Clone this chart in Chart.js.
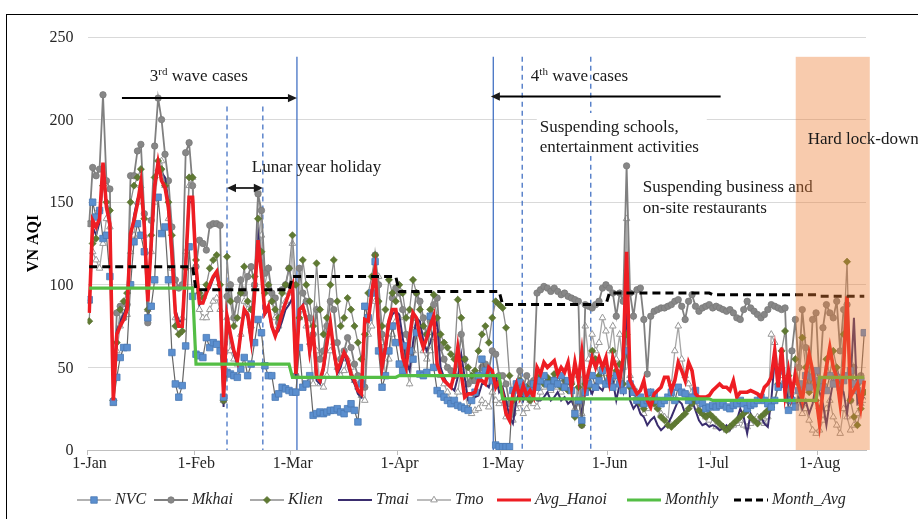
<!DOCTYPE html>
<html><head><meta charset="utf-8">
<script src="https://cdn.jsdelivr.net/npm/chart.js@4.4.1/dist/chart.umd.min.js"></script>
<style>
html,body{margin:0;padding:0;background:#fff;}
#wrap{position:relative;width:918px;height:519px;overflow:hidden;background:#fff;}
#frame{position:absolute;left:6px;top:14px;width:1000px;height:600px;border-left:1.5px solid #000;border-top:1.5px solid #000;pointer-events:none;}
canvas{position:absolute;left:0;top:0;}
</style></head><body>
<div id="wrap"><canvas id="c" width="918" height="519"></canvas><div id="frame"></div></div>
<script>
// ---------- DATA ----------
const monthLabels = ['1-Jan','1-Feb','1-Mar','1-Apr','1-May','1-Jun','1-Jul','1-Aug'];
const monthDays = [31,28,31,30,31,30,31,14];
const yTicks = [0,50,100,150,200,250];

const NVC = [
 91,150,141,145,128,130,105,29,44,56,62,62,100,126,137,130,120,80,87,103,153,131,135,103,59,40,32,39,63,123,93,
 58,57,56,68,62,65,64,60,32,47,46,45,44,49,56,45,52,65,79,71,51,45,45,32,34,38,37,36,
 35,35,62,38,40,45,21,22,23,22,23,24,24,25,23,22,25,28,24,17,40,87,80,95,114,60,38,45,60,75,65,
 52,48,63,60,55,71,46,45,47,81,50,36,34,32,30,28,30,27,26,25,24,30,35,45,55,48,45,42,3,2,
 2,2,2,36,40,41,38,34,36,40,38,42,45,40,38,42,40,45,38,42,36,22,30,18,35,40,45,38,42,48,40,
 42,38,45,40,36,60,40,35,30,32,28,30,35,33,30,28,30,32,35,30,38,35,34,30,32,36,30,28,25,26,
 27,26,27,28,26,25,27,28,30,28,25,27,28,30,32,30,28,26,30,38,48,40,24,30,26,36,40,45,38,44,48,
 42,38,36,45,40,44,38,42,45,48,40,36,42,71];

const Mkhai = [
 137,171,166,170,215,163,158,30,83,87,80,88,166,166,181,185,143,77,139,184,213,200,179,163,135,103,98,100,180,186,160,
 111,127,125,121,136,137,137,136,30,93,100,80,91,103,95,105,111,100,155,145,107,110,95,92,77,97,100,110,
 100,45,110,95,90,80,70,85,55,60,75,90,85,65,55,60,68,62,52,45,40,38,80,95,118,100,70,60,75,92,98,
 95,85,70,60,80,95,90,80,70,78,88,92,62,55,50,48,45,52,70,55,40,42,42,44,50,52,48,60,58,45,
 45,40,28,22,40,48,38,45,40,42,95,97,99,98,96,98,96,94,95,93,92,91,90,15,88,87,86,88,90,98,100,
 98,95,81,95,90,172,95,81,97,98,79,46,81,84,85,86,86,87,88,90,91,87,79,90,94,87,84,86,87,88,
 86,87,86,85,84,85,83,80,79,85,90,86,84,82,80,82,85,88,87,86,85,86,30,60,79,50,85,62,40,79,83,
 40,74,88,83,80,90,60,85,88,30,50,40,45,35];

const Klien = [
 78,125,128,145,160,150,145,30,65,85,90,95,150,160,165,170,140,85,130,165,175,170,160,150,130,75,70,72,110,165,165,
 115,95,92,100,110,115,118,100,30,117,90,75,80,95,111,90,85,105,140,120,95,100,90,85,80,95,100,110,
 130,100,80,115,100,90,75,113,85,70,80,100,115,90,75,80,92,85,75,65,55,70,95,105,118,90,75,85,103,95,90,
 100,95,80,85,103,95,85,75,70,85,94,80,70,65,62,58,55,91,80,55,50,45,48,60,70,75,65,80,90,88,
 86,74,45,30,38,42,35,38,30,40,42,45,40,44,42,46,40,38,42,36,40,20,38,15,40,38,60,55,45,50,40,
 45,60,48,52,40,70,38,35,30,28,25,30,35,28,25,20,18,15,14,16,18,20,22,25,28,30,24,22,20,22,
 20,18,16,14,12,14,16,18,20,22,24,20,18,16,20,22,24,26,30,40,60,72,45,30,55,40,68,50,35,45,30,
 25,40,55,45,60,50,40,70,114,30,20,15,25,35];

const Tmai = [
 85,135,130,138,165,150,140,28,72,78,82,88,128,142,152,158,140,92,122,158,172,168,165,150,125,85,78,78,115,150,150,
 108,88,90,96,98,104,106,95,26,78,68,58,52,70,84,80,65,92,138,110,82,85,74,70,72,78,85,88,
 92,45,84,88,78,58,70,42,40,48,62,78,58,46,50,58,52,44,40,34,32,76,80,92,105,72,48,60,76,82,84,
 82,68,54,48,65,80,78,66,60,65,72,78,50,44,40,38,36,44,58,44,30,30,32,33,40,40,38,46,45,35,
 38,30,20,16,30,36,30,36,30,32,30,30,32,35,30,32,35,30,32,28,30,25,30,22,35,38,34,40,38,36,42,
 38,42,30,40,35,90,30,25,28,22,20,15,18,20,15,12,14,16,20,25,30,28,22,25,30,24,18,15,16,14,
 15,14,12,13,15,12,16,18,25,20,10,22,18,15,20,16,14,30,55,42,38,40,28,35,26,32,25,30,22,28,40,
 35,28,15,30,42,50,40,35,22,40,80,28,30,32];

const Tmo = [
 90,120,115,110,125,140,135,28,60,75,80,82,120,130,150,160,130,85,120,150,170,175,160,140,110,80,78,80,120,160,165,
 100,85,80,80,85,90,92,85,30,80,60,55,52,70,90,85,75,100,157,130,100,110,90,80,75,85,90,95,
 125,45,80,85,75,65,40,60,40,38,45,60,65,50,45,48,55,50,42,38,33,30,70,75,90,105,65,45,55,70,78,
 80,65,50,40,60,75,72,60,55,60,68,72,45,40,35,30,28,35,50,35,25,22,24,25,30,28,26,35,30,28,
 30,20,22,18,25,28,22,25,30,28,26,35,38,40,36,42,38,35,40,38,42,25,45,22,75,55,70,60,65,80,72,
 60,75,55,70,50,140,45,38,35,30,22,25,28,30,26,22,20,18,40,60,75,55,45,40,35,30,25,22,20,18,
 16,14,15,14,12,14,15,16,18,15,14,16,18,20,18,16,20,70,65,50,45,40,30,35,28,30,22,25,18,12,10,
 12,18,25,30,20,15,10,25,20,12,15,22,28,30];

const AvgHanoi = [
 83,139,135,140,174,147,137,30,70,75,79,85,131,139,149,162,135,90,125,160,174,163,159,147,119,83,75,75,111,153,153,
 111,89,89,95,100,105,108,97,32,81,70,60,54,71,85,82,67,95,127,107,83,87,75,69,75,83,89,
 95,100,46,85,87,79,60,73,45,42,50,65,77,60,48,53,59,55,46,42,36,34,79,78,95,109,75,50,62,78,85,
 85,71,56,50,68,83,80,69,62,68,75,81,52,46,42,40,38,46,62,46,32,34,34,35,42,42,40,50,48,38,
 42,34,22,18,34,40,32,39,33,36,32,50,46,53,50,52,54,46,50,47,53,38,53,42,59,38,48,56,50,56,
 50,56,42,56,50,42,56,120,42,38,34,36,42,30,26,34,36,38,44,44,36,42,53,48,42,53,48,34,32,32,
 32,33,36,38,40,38,38,36,42,32,35,35,35,36,35,34,32,38,40,44,60,38,62,34,48,34,46,38,30,46,58,
 48,32,16,36,50,62,50,44,28,50,93,32,36,40,26,42];

const monthlyValues  = [98,52,44,45,31,31,30,44];
const monthAvgValues = [111,97,105,96,88,95,94,93];

// annotation anchors (day index, AQI value)
const solidLines  = [60.3, 117.3];
const dashedLines = [[40,208],[50.4,208],[125.7,238],[145.6,238]];
const lineTop = 238;
const lockdownStart = 205.1;

// ---------- BUILD ----------
const monthStarts = [];
{ let s=0; monthDays.forEach(n=>{monthStarts.push(s); s+=n;}); }
const nDays = monthDays.reduce((a,b)=>a+b,0);
function expand(vals){ const out=[]; monthDays.forEach((n,m)=>{for(let k=0;k<n;k++) out.push(vals[m]);}); return out; }
const Monthly = expand(monthlyValues);
const MonthAvg = expand(monthAvgValues);
const pts = arr => arr.map((v,i)=>({x:i,y:v}));

const FONT = '"Liberation Serif", "Times New Roman", serif';
const TXT = '#1a1a1a';

const series = [
 {label:'NVC', data:pts(NVC), borderColor:'#666666', borderWidth:1.2, pointStyle:'rect', pointRadius:4.6, pointBackgroundColor:'#5B8FCF', pointBorderColor:'#4a78b4', pointBorderWidth:0.8, order:3},
 {label:'Mkhai', data:pts(Mkhai), borderColor:'#808080', borderWidth:1.8, pointStyle:'circle', pointRadius:3.2, pointBackgroundColor:'#878787', pointBorderColor:'#7a7a7a', pointBorderWidth:0.8, order:6},
 {label:'Klien', data:pts(Klien), borderColor:'#8c8c8c', borderWidth:1.3, pointStyle:'rectRot', pointRadius:3.6, pointBackgroundColor:'#5f7a33', pointBorderColor:'#556d2c', pointBorderWidth:0.6, order:4},
 {label:'Tmai', data:pts(Tmai), borderColor:'#3a2d6e', borderWidth:2, pointRadius:0, order:5},
 {label:'Tmo', data:pts(Tmo), borderColor:'#a6a6a6', borderWidth:1.3, pointStyle:'triangle', pointRadius:3.8, pointBackgroundColor:'#ffffff', pointBorderColor:'#999999', pointBorderWidth:1, order:7},
 {label:'Avg_Hanoi', data:pts(AvgHanoi), borderColor:'#EE1D23', borderWidth:3.6, pointRadius:0, order:2},
 {label:'Monthly', data:pts(Monthly), borderColor:'#54BE45', borderWidth:3.2, pointRadius:0, order:1},
 {label:'Month_Avg', data:pts(MonthAvg), borderColor:'#000000', borderWidth:3, borderDash:[8,5], pointRadius:0, order:0}
];
series.forEach(s=>{ s.tension=0; s.fill=false; s.pointHoverRadius=0; });

function arrowHead(ctx, x, y, dir){
  ctx.beginPath();
  ctx.moveTo(x, y);
  ctx.lineTo(x - dir*9, y - 4.2);
  ctx.lineTo(x - dir*9, y + 4.2);
  ctx.closePath(); ctx.fill();
}
function text(ctx, s, X, Y, font, align){
  ctx.font = font; ctx.textAlign = align||'left'; ctx.textBaseline='middle'; ctx.fillText(s, X, Y);
}
function marker(ctx, style, x, y, ds){
  ctx.save();
  ctx.fillStyle = ds.pointBackgroundColor; ctx.strokeStyle = ds.pointBorderColor; ctx.lineWidth = ds.pointBorderWidth;
  const r = ds.pointRadius;
  ctx.beginPath();
  if(style==='rect'){ const h=r*Math.SQRT1_2; ctx.rect(x-h,y-h,2*h,2*h); }
  else if(style==='circle'){ ctx.arc(x,y,r,0,Math.PI*2); }
  else if(style==='rectRot'){ ctx.moveTo(x,y-r); ctx.lineTo(x+r,y); ctx.lineTo(x,y+r); ctx.lineTo(x-r,y); ctx.closePath(); }
  else if(style==='triangle'){ ctx.moveTo(x,y-r); ctx.lineTo(x+r*0.87,y+r*0.5); ctx.lineTo(x-r*0.87,y+r*0.5); ctx.closePath(); }
  ctx.fill(); ctx.stroke(); ctx.restore();
}

const legendPos = [115,192,288,376,455,535,665,772];

const annot = {
  id:'annot',
  beforeDatasetsDraw(chart){
    const {ctx, scales:{x,y}} = chart;
    ctx.save();
    ctx.strokeStyle='#4472C4'; ctx.lineWidth=1.3;
    solidLines.forEach(d=>{
      const X = x.getPixelForValue(d);
      ctx.beginPath(); ctx.moveTo(X, y.getPixelForValue(lineTop)); ctx.lineTo(X, y.getPixelForValue(0)); ctx.stroke();
    });
    ctx.setLineDash([5,4]);
    dashedLines.forEach(([d,t])=>{
      const X = x.getPixelForValue(d);
      ctx.beginPath(); ctx.moveTo(X, y.getPixelForValue(t)); ctx.lineTo(X, y.getPixelForValue(0)); ctx.stroke();
    });
    ctx.restore();
  },
  afterDatasetsDraw(chart){
    const {ctx, scales:{x,y}} = chart;
    const px = d=>x.getPixelForValue(d), py = v=>y.getPixelForValue(v);
    ctx.save();
    ctx.fillStyle = TXT; ctx.strokeStyle = '#000'; ctx.lineWidth = 2;
    const F = '17px '+FONT;
    // 3rd wave
    let ay = py(213);
    ctx.beginPath(); ctx.moveTo(px(9.5), ay); ctx.lineTo(px(60.3)-8, ay); ctx.stroke();
    arrowHead(ctx, px(60.3), ay, 1);
    let tx = px(17.6), ty = py(226);
    text(ctx,'3',tx,ty,F); let w = ctx.measureText('3').width;
    text(ctx,'rd',tx+w,ty-5,'11px '+FONT); let w2 = ctx.measureText('rd').width;
    text(ctx,' wave cases',tx+w+w2,ty,F);
    // 4th wave
    ay = py(214);
    ctx.beginPath(); ctx.moveTo(px(183.3), ay); ctx.lineTo(px(116.6)+8, ay); ctx.stroke();
    arrowHead(ctx, px(116.6), ay, -1);
    tx = px(128.2); ty = py(226);
    text(ctx,'4',tx,ty,F); w = ctx.measureText('4').width;
    text(ctx,'th',tx+w,ty-5,'11px '+FONT); w2 = ctx.measureText('th').width;
    text(ctx,' wave cases',tx+w+w2,ty,F);
    // Lunar holiday
    ay = py(158.6);
    ctx.lineWidth = 1.6;
    ctx.beginPath(); ctx.moveTo(px(40)+7, ay); ctx.lineTo(px(50.4)-7, ay); ctx.stroke();
    arrowHead(ctx, px(50.4), ay, 1); arrowHead(ctx, px(40), ay, -1);
    text(ctx,'Lunar year holiday',px(47.2),py(171),F);
    // Suspending schools (white box)
    ctx.fillStyle='#fff';
    ctx.fillRect(px(130.8)-3, py(204), 170, py(178)-py(204));
    ctx.fillStyle=TXT;
    text(ctx,'Suspending schools,',px(130.8),py(195.5),F);
    text(ctx,'entertainment activities',px(130.8),py(183),F);
    // Suspending business
    text(ctx,'Suspending business and',px(160.7),py(158.6),F);
    text(ctx,'on-site restaurants',px(160.7),py(146),F);
    // Lockdown shading
    ctx.fillStyle='rgba(237,125,49,0.4)';
    const x1 = px(lockdownStart), x2 = px(226.6);
    ctx.fillRect(x1, py(lineTop), x2-x1, py(0)-py(lineTop));
    ctx.fillStyle=TXT;
    text(ctx,'Hard lock-down',px(208.6),py(187.7),F);

    // axis tick labels
    ctx.fillStyle='#262626';
    yTicks.forEach(v=> text(ctx,String(v), 73.5, py(v)+1, '16px '+FONT, 'right'));
    monthStarts.forEach((s,k)=> text(ctx, monthLabels[k], px(s-0.5)+2, 464, '16px '+FONT, 'center'));
    // y title
    ctx.save(); ctx.translate(34, (py(0)+py(250))/2); ctx.rotate(-Math.PI/2);
    ctx.fillStyle='#000'; text(ctx,'VN AQI',0,0,'bold 16px '+FONT,'center'); ctx.restore();

    // legend
    const LY = 500;
    series.forEach((ds,k)=>{
      const tX = legendPos[k], x0 = tX-38, x1b = tX-4;
      ctx.save();
      ctx.strokeStyle = ds.borderColor; ctx.lineWidth = Math.min(ds.borderWidth, 3);
      if(ds.borderDash) ctx.setLineDash([7,4]);
      ctx.beginPath(); ctx.moveTo(x0, LY); ctx.lineTo(x1b, LY); ctx.stroke();
      ctx.restore();
      if(ds.pointRadius>0) marker(ctx, ds.pointStyle, (x0+x1b)/2, LY, ds);
      ctx.fillStyle='#262626';
      text(ctx, ds.label, tX, LY, 'italic 16px '+FONT);
    });
    ctx.restore();
  }
};

new Chart(document.getElementById('c'), {
  type:'line',
  data:{ datasets: series },
  options:{
    responsive:false, animation:false, devicePixelRatio:1,
    layout:{ padding:{ left:0, top:37, right:52, bottom:0 } },
    plugins:{ legend:{display:false}, tooltip:{enabled:false} },
    events:[],
    scales:{
      x:{ type:'linear', min:-0.5, max:nDays-0.5,
          afterBuildTicks(s){ s.ticks = monthStarts.map(m=>({value:m-0.5})); },
          afterFit(s){ s.height = 69; },
          ticks:{ display:false },
          grid:{ display:true, drawOnChartArea:false, drawTicks:true, tickLength:5, color:'#bfbfbf' },
          border:{ display:true, color:'#bfbfbf' } },
      y:{ min:0, max:250,
          afterBuildTicks(s){ s.ticks = yTicks.map(v=>({value:v})); },
          afterFit(s){ s.width = 87.5; },
          ticks:{ display:false },
          grid:{ color:'#d9d9d9', drawTicks:false },
          border:{ display:false } }
    }
  },
  plugins:[annot]
});
</script>
</body></html>
